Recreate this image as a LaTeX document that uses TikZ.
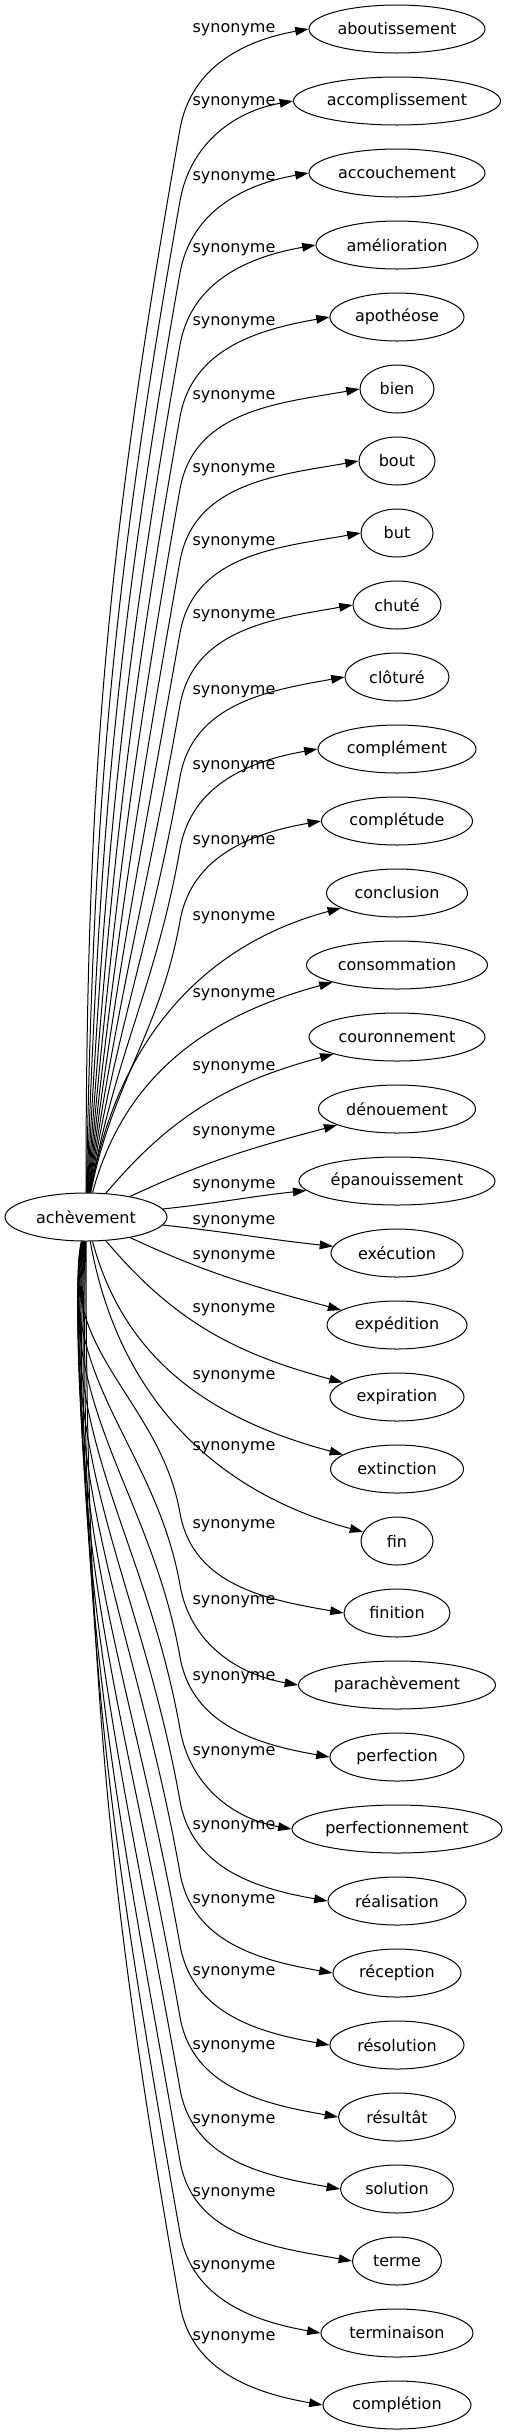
\documentclass[tikz,border=0pt]{standalone}
\usepackage{fontspec}
\setmainfont{DejaVu Sans}
\usetikzlibrary{arrows.meta,shapes.geometric}

\tikzset{
  syn/.style={draw, ellipse, inner sep=0pt, minimum height=36pt, line width=0.75pt, font=\fontsize{12}{14}\selectfont},
  lbl/.style={inner sep=0pt, font=\fontsize{12}{14}\selectfont},
  edge/.style={-{Triangle[length=10pt,width=6.5pt]}, line width=0.75pt}
}

\begin{document}
\begin{tikzpicture}[x=0.75pt,y=0.75pt]
	\useasboundingbox (0,0) rectangle (507,-2435);
	\node[syn, minimum width=121.5pt] (c) at (86,-1217) {achèvement};
	% synonyms and their labels
	\foreach \word/\w/\ly [count=\i from 0] in {aboutissement/176/30, accomplissement/207/103, accouchement/176/178, amélioration/162/250, apothéose/134/323, bien/74/397, bout/76/470, but/72/543, chuté/88/616, clôturé/104/692, complément/158/767, complétude/151/842, conclusion/141/918, consommation/181/995, couronnement/176/1068, dénouement/157/1133, épanouissement/196/1186, exécution/132/1222, expédition/140/1257, expiration/134/1310, extinction/133/1377, fin/72/1448, finition/106/1526, parachèvement/197/1602, perfection/134/1678, perfectionnement/210/1753, réalisation/138/1827, réception/128/1901, résolution/134/1973, résultât/117/2047, solution/113/2121, terme/89/2194, terminaison/152/2267, complétion/148/2338}{
		\node[syn, minimum width=0.75pt*\w] (t\i) at (397,{-(29+72*\i)}) {\word};
		\node[lbl] (l\i) at (234,-\ly) {synonyme};
	}
	% upper edges
	\foreach \i in {0,...,11}{
		\pgfmathsetmacro{\oa}{90-\i}
		\coordinate (k\i) at (180,{-(129+72*\i)});
		\draw[edge] (c) to[out=\oa, in=-100] (k\i) to[out=80, in=190] (t\i.west);
	}
	% middle edges
	\foreach \i/\oa/\ia in {12/80/195, 13/75/195, 14/50/195, 15/25/195, 16/6/186, 17/-6/174, 18/-25/165, 19/-50/165, 20/-75/165, 21/-80/165}{
		\draw[edge] (c) to[out=\oa, in=\ia] (t\i);
	}
	% lower edges
	\foreach \i in {22,...,33}{
		\pgfmathsetmacro{\oa}{\i-123}
		\coordinate (k\i) at (180,{-(72*\i-71)});
		\draw[edge] (c) to[out=\oa, in=100] (k\i) to[out=-80, in=170] (t\i.west);
	}
\end{tikzpicture}
\end{document}
